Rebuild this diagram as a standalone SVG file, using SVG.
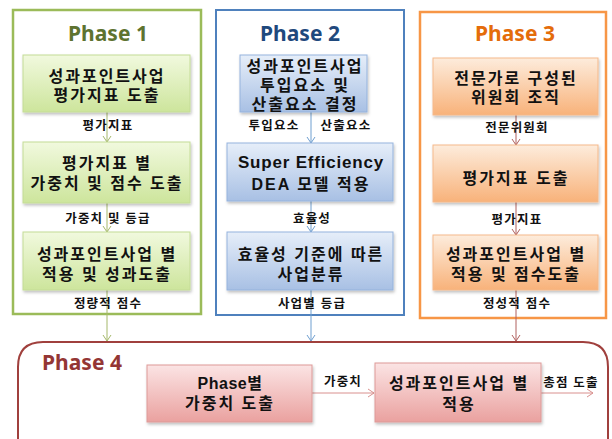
<svg xmlns="http://www.w3.org/2000/svg" width="612" height="439" viewBox="0 0 612 439">
<defs>
<linearGradient id="gG" x1="0" y1="0" x2="0" y2="1"><stop offset="0" stop-color="#f1f9de"/><stop offset="1" stop-color="#cde59c"/></linearGradient>
<linearGradient id="gB" x1="0" y1="0" x2="0" y2="1"><stop offset="0" stop-color="#e6eef9"/><stop offset="1" stop-color="#a8c0e4"/></linearGradient>
<linearGradient id="gO" x1="0" y1="0" x2="0" y2="1"><stop offset="0" stop-color="#fdecdc"/><stop offset="1" stop-color="#f8b27a"/></linearGradient>
<linearGradient id="gR" x1="0" y1="0" x2="0" y2="1"><stop offset="0" stop-color="#fbe4e4"/><stop offset="1" stop-color="#eaa19f"/></linearGradient>
<filter id="sh" x="-10%" y="-10%" width="125%" height="135%"><feDropShadow dx="1" dy="2" stdDeviation="1.5" flood-color="#000" flood-opacity="0.25"/></filter>
<marker id="aG" markerWidth="10" markerHeight="10" refX="8" refY="5" orient="auto" markerUnits="userSpaceOnUse"><path d="M2,1 L8,5 L2,9" fill="none" stroke="#a5b86a" stroke-width="1"/></marker>
<marker id="aB" markerWidth="10" markerHeight="10" refX="8" refY="5" orient="auto" markerUnits="userSpaceOnUse"><path d="M2,1 L8,5 L2,9" fill="none" stroke="#6f9fd0" stroke-width="1"/></marker>
<marker id="aO" markerWidth="10" markerHeight="10" refX="8" refY="5" orient="auto" markerUnits="userSpaceOnUse"><path d="M2,1 L8,5 L2,9" fill="none" stroke="#b0605e" stroke-width="1"/></marker>
<marker id="aR" markerWidth="10" markerHeight="10" refX="8" refY="5" orient="auto" markerUnits="userSpaceOnUse"><path d="M2,1 L8,5 L2,9" fill="none" stroke="#d9908e" stroke-width="1"/></marker>
</defs>
<style>
.ttl{font-family:"Noto Sans","Liberation Sans",sans-serif;font-weight:bold;font-size:21px;text-anchor:middle}
.bx{font-family:"Liberation Sans","Noto Sans CJK KR",sans-serif;font-weight:bold;font-size:16px;letter-spacing:2px;text-anchor:middle;fill:#111}
.lb{font-family:"Liberation Sans","Noto Sans CJK KR",sans-serif;font-weight:bold;font-size:12.5px;letter-spacing:1.2px;text-anchor:middle;fill:#111}
.cG{fill:none;stroke:#9bbb59;stroke-width:2.5}
.cB{fill:none;stroke:#4f81bd;stroke-width:2}
.cO{fill:none;stroke:#f79646;stroke-width:2.5}
.cR{fill:none;stroke:#a0403d;stroke-width:2}
.nG{fill:url(#gG);stroke:#c4dc96;stroke-width:1;filter:url(#sh)}
.nB{fill:url(#gB);stroke:#95b3dd;stroke-width:1;filter:url(#sh)}
.nO{fill:url(#gO);stroke:#f5b98b;stroke-width:1;filter:url(#sh)}
.nR{fill:url(#gR);stroke:#dd9a98;stroke-width:1;filter:url(#sh)}
.lG{stroke:#a5b86a;stroke-width:1;fill:none}
.lB{stroke:#6f9fd0;stroke-width:1;fill:none}
.lO{stroke:#b0605e;stroke-width:1;fill:none}
.lR{stroke:#d9908e;stroke-width:1;fill:none}
</style>
<rect width="612" height="439" fill="#fff"/>

<g id="phase1">
<rect class="cG" x="13" y="10" width="188" height="304"/>
<text class="ttl" x="108" y="41" fill="#5e7330">Phase 1</text>
</g>
<g id="phase2">
<rect class="cB" x="216" y="10" width="188" height="305"/>
<text class="ttl" x="300" y="41" fill="#1f497d">Phase 2</text>
</g>
<g id="phase3">
<rect class="cO" x="420" y="12" width="186" height="306"/>
<text class="ttl" x="515" y="41" fill="#e46c0a">Phase 3</text>
</g>
<g id="phase4">
<path class="cR" d="M18,444 L18,367 Q18,342 43,342 L583,342 Q608,342 608,367 L608,444"/>
<text class="ttl" x="82" y="370" fill="#943634">Phase 4</text>
</g>

<g id="connectors">
<line class="lG" x1="107" y1="112" x2="107" y2="142" marker-end="url(#aG)"/>
<line class="lG" x1="107" y1="203" x2="107" y2="232" marker-end="url(#aG)"/>
<line class="lG" x1="107" y1="290" x2="107" y2="341" marker-end="url(#aG)"/>
<line class="lB" x1="311" y1="112" x2="311" y2="143" marker-end="url(#aB)"/>
<line class="lB" x1="311" y1="201" x2="311" y2="232" marker-end="url(#aB)"/>
<line class="lB" x1="311" y1="290" x2="311" y2="341" marker-end="url(#aB)"/>
<line class="lO" x1="516" y1="115" x2="516" y2="145" marker-end="url(#aO)"/>
<line class="lO" x1="516" y1="202" x2="516" y2="235" marker-end="url(#aO)"/>
<line class="lO" x1="516" y1="290" x2="516" y2="341" marker-end="url(#aO)"/>
<line class="lR" x1="312" y1="393" x2="374" y2="393" marker-end="url(#aR)"/>
<line class="lR" x1="541" y1="393" x2="593" y2="393" marker-end="url(#aR)"/>
<text class="lb" x="108" y="130">평가지표</text>
<text class="lb" x="108" y="223">가중치 및 등급</text>
<text class="lb" x="108" y="308">정량적 점수</text>
<text class="lb" x="274" y="130">투입요소</text>
<text class="lb" x="346" y="130">산출요소</text>
<text class="lb" x="312" y="223">효율성</text>
<text class="lb" x="312" y="308">사업별 등급</text>
<text class="lb" x="517" y="132">전문위원회</text>
<text class="lb" x="517" y="224">평가지표</text>
<text class="lb" x="517" y="308">정성적 점수</text>
<text class="lb" x="343" y="386">가중치</text>
<text class="lb" x="571" y="387">총점 도출</text>
</g>

<g id="n1a">
<rect class="nG" x="23" y="55" width="167" height="57"/>
<text class="bx" y="82"><tspan x="107">성과포인트사업</tspan><tspan x="107" dy="19">평가지표 도출</tspan></text>
</g>
<g id="n1b">
<rect class="nG" x="23" y="142" width="167" height="61"/>
<text class="bx" y="169"><tspan x="107">평가지표 별</tspan><tspan x="107" dy="20">가중치 및 점수 도출</tspan></text>
</g>
<g id="n1c">
<rect class="nG" x="23" y="232" width="167" height="58"/>
<text class="bx" y="260"><tspan x="107">성과포인트사업 별</tspan><tspan x="107" dy="20">적용 및 성과도출</tspan></text>
</g>

<g id="n2a">
<rect class="nB" x="240" y="55" width="127" height="57"/>
<text class="bx" y="72"><tspan x="305">성과포인트사업</tspan><tspan x="305" dy="19">투입요소 및</tspan><tspan x="305" dy="19">산출요소 결정</tspan></text>
</g>
<g id="n2b">
<rect class="nB" x="227" y="143" width="166" height="58"/>
<text class="bx" y="168"><tspan x="311" font-size="17" letter-spacing="0.8">Super Efficiency</tspan><tspan x="311" dy="22">DEA 모델 적용</tspan></text>
</g>
<g id="n2c">
<rect class="nB" x="227" y="232" width="166" height="58"/>
<text class="bx" y="260"><tspan x="311">효율성 기준에 따른</tspan><tspan x="311" dy="20">사업분류</tspan></text>
</g>

<g id="n3a">
<rect class="nO" x="433" y="58" width="165" height="57"/>
<text class="bx" y="84"><tspan x="516">전문가로 구성된</tspan><tspan x="516" dy="19">위원회 조직</tspan></text>
</g>
<g id="n3b">
<rect class="nO" x="433" y="145" width="165" height="57"/>
<text class="bx" x="516" y="184">평가지표 도출</text>
</g>
<g id="n3c">
<rect class="nO" x="433" y="235" width="165" height="55"/>
<text class="bx" y="260"><tspan x="516">성과포인트사업 별</tspan><tspan x="516" dy="20">적용 및 점수도출</tspan></text>
</g>

<g id="n4a">
<rect class="nR" x="147" y="365" width="165" height="57"/>
<text class="bx" y="389"><tspan x="230" letter-spacing="0.5">Phase별</tspan><tspan x="230" dy="20">가중치 도출</tspan></text>
</g>
<g id="n4b">
<rect class="nR" x="375" y="363" width="166" height="59"/>
<text class="bx" y="389"><tspan x="459">성과포인트사업 별</tspan><tspan x="459" dy="21">적용</tspan></text>
</g>
</svg>
